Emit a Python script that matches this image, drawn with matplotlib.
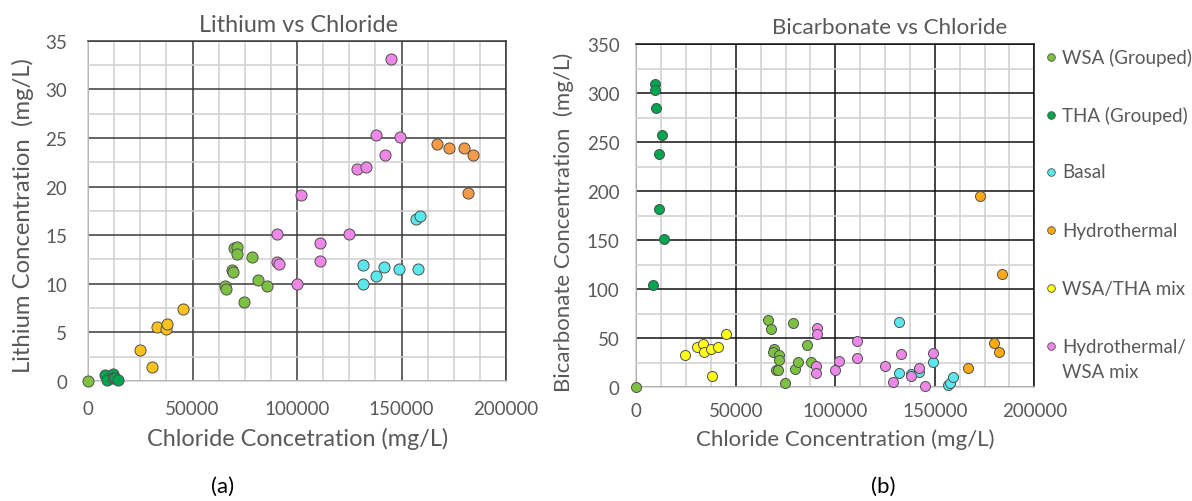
import matplotlib
matplotlib.use("Agg")
import matplotlib.pyplot as plt
from matplotlib.ticker import MultipleLocator, FuncFormatter
from matplotlib.lines import Line2D

plt.rcParams['font.family'] = ['Lato', 'DejaVu Sans']

# --- (a) Lithium vs Chloride ---
li_wsa_cl = [0, 65700, 66000, 68900, 69200, 69900, 71400, 71400, 74600, 78500, 81300, 85800]
li_wsa_li = [0, 9.74, 9.47, 11.39, 11.18, 13.65, 13.79, 13.1, 8.16, 12.76, 10.36, 9.74]
li_tha_cl = [8300, 8900, 11800, 12100, 12800, 14400]
li_tha_li = [0.62, 0.13, 0.75, 0.34, 0.27, 0.13]
li_basal_cl = [131700, 131700, 137800, 141800, 149000, 158000, 156800, 159000]
li_basal_li = [11.97, 10.0, 10.8, 11.76, 11.52, 11.52, 16.7, 17.0]
li_hydro_cl = [167000, 172900, 179900, 184000, 181800]
li_hydro_li = [24.4, 24.0, 24.0, 23.22, 19.3]
li_mix_cl = [24700, 30800, 33200, 37300, 37900, 45300]
li_mix_li = [3.19, 1.47, 5.56, 5.32, 5.83, 7.41]
li_hw_cl = [90300, 90300, 91200, 99900, 101900, 111000, 111000, 125000, 128900, 133000,
            137900, 142000, 145100, 149100]
li_hw_li = [15.15, 12.27, 12.07, 10.0, 19.17, 14.2, 12.35, 15.15, 21.78, 22.0,
            25.34, 23.22, 33.16, 25.1]

# --- (b) Bicarbonate vs Chloride ---
hc_wsa_cl = [0, 66300, 67500, 69200, 68800, 71500, 71500, 70000, 71400, 74600, 78600,
             79700, 81300, 85900, 87600]
hc_wsa_hc = [0, 68, 58.9, 39.1, 35.7, 32.3, 27.2, 17, 17, 4.1, 65, 18, 25.8, 42.9, 25.8]
hc_tha_cl = [9200, 9200, 9700, 12800, 11400, 11200, 14100, 8400]
hc_tha_hc = [309, 303.4, 285, 257, 238, 182, 151, 104]
hc_basal_cl = [131900, 131900, 137900, 141900, 149000, 156800, 157600, 159000]
hc_basal_hc = [66, 14.3, 13, 15, 25.2, 2, 4, 9.9]
hc_hydro_cl = [172900, 183800, 179800, 182100, 166700]
hc_hydro_hc = [195.2, 115, 44.9, 36, 19.1]
hc_mix_cl = [24600, 30700, 33500, 34200, 37400, 37900, 41100, 45200]
hc_mix_hc = [32.3, 41.2, 44.2, 35.4, 39.1, 11.2, 41.2, 54.1]
hc_hw_cl = [90600, 90600, 90300, 90300, 99800, 102000, 110800, 110800, 124800, 128800,
            132900, 137900, 141900, 145100, 149000]
hc_hw_hc = [60.2, 54.1, 21.1, 14.3, 17.7, 26.2, 47, 30, 21.1, 5.4, 34, 10.9, 19.7, 0.7, 35]

labels = ["WSA (Grouped)", "THA (Grouped)", "Basal", "Hydrothermal", "WSA/THA mix",
          "Hydrothermal/", "WSA mix"]

green = "#7DC142"
dkgreen = "#00A550"
cyan = "#5BE8EC"
violet = "#EE88E8"
hydro_col = "#FFAA10"
mix_col = "#FFFF10"
txt = "#595959"

W, H = 1192, 502
fig = plt.figure(figsize=(W / 100, H / 100), dpi=100)


def px_axes(x0, y0, x1, y1):
    return fig.add_axes([x0 / W, 1 - y1 / H, (x1 - x0) / W, (y1 - y0) / H])


def ftext(x, y, s, **kw):
    return fig.text(x / W, 1 - y / H, s, ha="center", va="center", color=txt, **kw)


def fit(t, target):
    # scale a text so its long side is target pixels
    r = fig.canvas.get_renderer()
    for _ in range(3):
        bb = t.get_window_extent(r)
        t.set_fontsize(t.get_fontsize() * target / max(bb.width, bb.height))


def style(ax, ymax, ymaj, major_col, pad_x, pad_y):
    ax.set_xlim(0, 200000)
    ax.set_ylim(0, ymax)
    ax.xaxis.set_major_locator(MultipleLocator(50000))
    ax.xaxis.set_minor_locator(MultipleLocator(12500))
    ax.yaxis.set_major_locator(MultipleLocator(ymaj))
    ax.yaxis.set_minor_locator(MultipleLocator(ymaj / 2))
    ax.xaxis.set_major_formatter(FuncFormatter(lambda v, p: f"{v:.0f}"))
    ax.yaxis.set_major_formatter(FuncFormatter(lambda v, p: f"{v:.0f}"))
    ax.grid(True, which="minor", color="#D0D0D0", linewidth=1.1)
    ax.grid(True, which="major", color=major_col, linewidth=1.1)
    ax.set_axisbelow(True)
    ax.tick_params(which="both", length=0, labelsize=13.5, labelcolor=txt)
    ax.tick_params(axis="x", pad=pad_x)
    ax.tick_params(axis="y", pad=pad_y)
    for s in ["top", "right"]:
        ax.spines[s].set_color(major_col)
        ax.spines[s].set_linewidth(1.1)
    for s in ["left", "bottom"]:
        ax.spines[s].set_color("#D0D0D0")
        ax.spines[s].set_linewidth(1.1)


# left chart
ax1 = px_axes(88, 41.7, 506, 382)
style(ax1, 35, 5, "#3A3A3A", 14, 15)
kw1 = dict(s=64, edgecolors="#505050", linewidths=0.7, zorder=3, clip_on=False)
ax1.scatter(li_wsa_cl, li_wsa_li, color=green, **kw1)
ax1.scatter(li_tha_cl, li_tha_li, color=dkgreen, **kw1)
ax1.scatter(li_basal_cl, li_basal_li, color=cyan, **kw1)
ax1.scatter(li_hydro_cl, li_hydro_li, color="#F59A45", **kw1)
ax1.scatter(li_mix_cl, li_mix_li, color="#FFC21A", **kw1)
ax1.scatter(li_hw_cl, li_hw_li, color=violet, **kw1)

# right chart
ax2 = px_axes(636.3, 45, 1034.3, 388)
style(ax2, 350, 50, "#111111", 11, 12)
kw2 = dict(s=52, edgecolors="#505050", linewidths=0.7, zorder=3, clip_on=False)
ax2.scatter(hc_wsa_cl, hc_wsa_hc, color=green, **kw2)
ax2.scatter(hc_tha_cl, hc_tha_hc, color=dkgreen, **kw2)
ax2.scatter(hc_basal_cl, hc_basal_hc, color=cyan, **kw2)
ax2.scatter(hc_hydro_cl, hc_hydro_hc, color=hydro_col, **kw2)
ax2.scatter(hc_mix_cl, hc_mix_hc, color=mix_col, **kw2)
ax2.scatter(hc_hw_cl, hc_hw_hc, color=violet, **kw2)

# titles and axis labels
fit(ftext(298.5, 25, "Lithium vs Chloride", fontsize=15), 199)
fit(ftext(890, 28, "Bicarbonate vs Chloride", fontsize=15), 234)
fit(ftext(297.5, 439, "Chloride Concetration (mg/L)", fontsize=15), 301)
fit(ftext(845, 440, "Chloride Concentration (mg/L)", fontsize=15), 300)
fit(ftext(23, 215.5, "Lithium Concentration  (mg/L)", fontsize=15, rotation=90), 315)
fit(ftext(564, 222.5, "Bicarbonate Concentration  (mg/L)", fontsize=15, rotation=90), 341)
fig.text(223 / W, 1 - 487 / H, "(a)", ha="center", va="center", fontsize=16, color="black")
fig.text(883 / W, 1 - 487 / H, "(b)", ha="center", va="center", fontsize=16, color="black")

# legend (drawn by hand so the two-line entry keeps its marker on the first line)
leg_colors = [green, dkgreen, cyan, hydro_col, mix_col, violet, None]
leg_y = [58, 116, 173, 231, 289, 347, 372]
for lab, c, y in zip(labels, leg_colors, leg_y):
    fig.text(1062 / W, 1 - y / H, lab, ha="left", va="center", fontsize=13.5, color=txt)
    if c is not None:
        fig.add_artist(Line2D([1051 / W], [1 - y / H], transform=fig.transFigure,
                              marker="o", linestyle="", markersize=5.5,
                              markerfacecolor=c, markeredgecolor="#505050",
                              markeredgewidth=0.6))

fig.savefig("out.png", dpi=100)
